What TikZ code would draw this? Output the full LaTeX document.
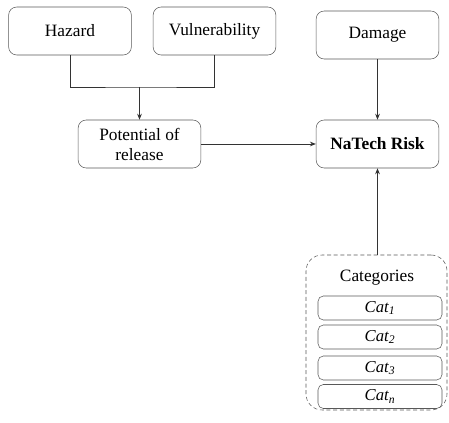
\documentclass[tikz,border=0pt]{standalone}
\usepackage{fontspec}
\setmainfont{Liberation Serif}
\usetikzlibrary{arrows.meta}

\begin{document}
\begin{tikzpicture}[x=0.75pt, y=-0.75pt,
  box/.style={draw=black!65, rounded corners=6pt, minimum width=92pt, minimum height=36pt,
    align=center, inner sep=2pt, font=\fontsize{13}{15}\selectfont},
  catbox/.style={draw=black!65, rounded corners=4pt, minimum width=93pt, minimum height=18pt,
    inner sep=1pt, font=\fontsize{12.5}{14}\selectfont\itshape},
  group/.style={draw=black!65, densely dashed, rounded corners=12pt, minimum width=105.75pt, minimum height=116.25pt},
  link/.style={draw=black!80, line width=0.6pt},
  arr/.style={link, -{Stealth[length=4.5pt,width=3.5pt]}}]
\useasboundingbox (0,0) rectangle (449,423);

% Top row of boxes
\node[box] (hazard) at (70,31) {Hazard};
\node[box] (vuln) at (214.5,31) {Vulnerability};
\node[box] (damage) at (377.5,35) {Damage};

% Middle row
\node[box] (release) at (139.5,144) {Potential of\\release};
\node[box] (natech) at (377.5,144) {\textbf{NaTech Risk}};

% Categories group
\node[group] (catgroup) at (376.5,332.5) {};
\node[font=\fontsize{13}{15}\selectfont] (cattitle) at (377,278) {Categories};
\node[catbox] (cat1) at (380,308) {Cat\textsubscript{1}};
\node[catbox] (cat2) at (380,337) {Cat\textsubscript{2}};
\node[catbox] (cat3) at (380,368) {Cat\textsubscript{3}};
\node[catbox] (catn) at (380,396.5) {Cat\textsubscript{n}};

% Connectors
\coordinate (join) at (139.5,87);
\draw[link] (hazard.south) |- (join) -| (vuln.south);
\draw[arr] (join) -- (release.north);
\draw[arr] (damage.south) -- (natech.north);
\draw[arr] (release.east) -- (natech.west);
\draw[arr] (catgroup.north -| natech.south) -- (natech.south);
\end{tikzpicture}
\end{document}
